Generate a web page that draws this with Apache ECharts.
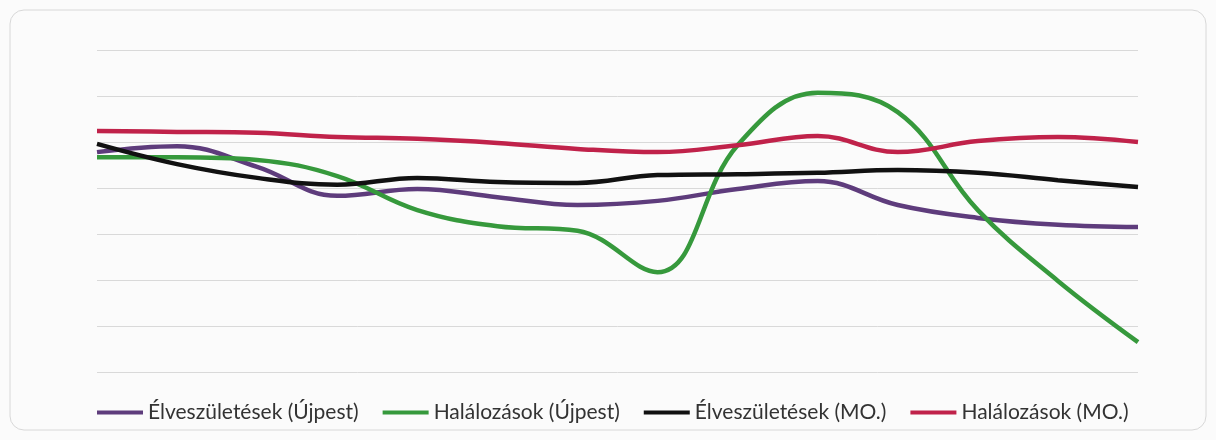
<!DOCTYPE html>
<html lang="hu" style="height: 100%">

<head>
  <meta charset="utf-8">
</head>

<body style="height: 100%; margin: 0; background: #fbfbfb">
  <div id="container" style="height: 100%"></div>
  <script type="text/javascript" src="https://fastly.jsdelivr.net/npm/echarts@6.0.0/dist/echarts.min.js"></script>
  <script type="text/javascript">
    // no axis labels in the original, values are read in gridline units (0 = bottom line)
    const categories = ['1', '2', '3', '4', '5', '6', '7', '8', '9', '10', '11', '12', '13', '14']

    const birthsUjpest = [4.78, 4.91, 4.46, 3.83, 3.98, 3.80, 3.63, 3.72, 3.98, 4.15, 3.63, 3.35, 3.20, 3.15]
    const deathsUjpest = [4.67, 4.67, 4.61, 4.26, 3.52, 3.17, 3.07, 2.17, 4.93, 6.07, 5.65, 3.52, 1.98, 0.65]
    const birthsMO = [4.96, 4.52, 4.22, 4.07, 4.22, 4.13, 4.11, 4.28, 4.30, 4.33, 4.39, 4.33, 4.17, 4.02]
    const deathsMO = [5.24, 5.22, 5.20, 5.11, 5.07, 4.98, 4.85, 4.78, 4.93, 5.13, 4.78, 5.02, 5.11, 5.00]

    const names = [
      'Élveszületések (Újpest)',
      'Halálozások (Újpest)',
      'Élveszületések (MO.)',
      'Halálozások (MO.)'
    ]
    const colors = ['#5e3c7c', '#36993c', '#111111', '#c0224a']

    var dom = document.getElementById('container');
    var myChart = echarts.init(dom, null, { renderer: 'canvas' });

    const data = [birthsUjpest, deathsUjpest, birthsMO, deathsMO]
    const series = names.map((name, i) => ({
      name,
      type: 'line',
      smooth: 0.4,
      symbol: 'none',
      data: data[i],
      lineStyle: { width: 4.5, color: colors[i] },
      itemStyle: { color: colors[i] }
    }))

    var option = {
      animation: false,
      backgroundColor: '#fbfbfb',
      graphic: [{
        type: 'rect',
        shape: { x: 10, y: 10, width: 1196, height: 420, r: 14 },
        style: { fill: 'none', stroke: '#d8d8d8', lineWidth: 1 },
        z: -1
      }],
      grid: { left: 97, right: 78, top: 50, bottom: 68 },
      legend: {
        data: names,
        bottom: 12,
        left: 92,
        icon: 'rect',
        itemWidth: 46,
        itemHeight: 4,
        itemGap: 24,
        textStyle: { fontFamily: 'Lato', fontSize: 21, color: '#333' }
      },
      xAxis: {
        type: 'category',
        boundaryGap: false,
        data: categories,
        axisLine: { show: false },
        axisTick: { show: false },
        axisLabel: { show: false }
      },
      yAxis: {
        type: 'value',
        min: 0,
        max: 7,
        interval: 1,
        axisLabel: { show: false },
        splitLine: { lineStyle: { color: '#d9d9d9', width: 1 } }
      },
      series
    };

    myChart.setOption(option);
    window.addEventListener('resize', myChart.resize);
  </script>
</body>

</html>
